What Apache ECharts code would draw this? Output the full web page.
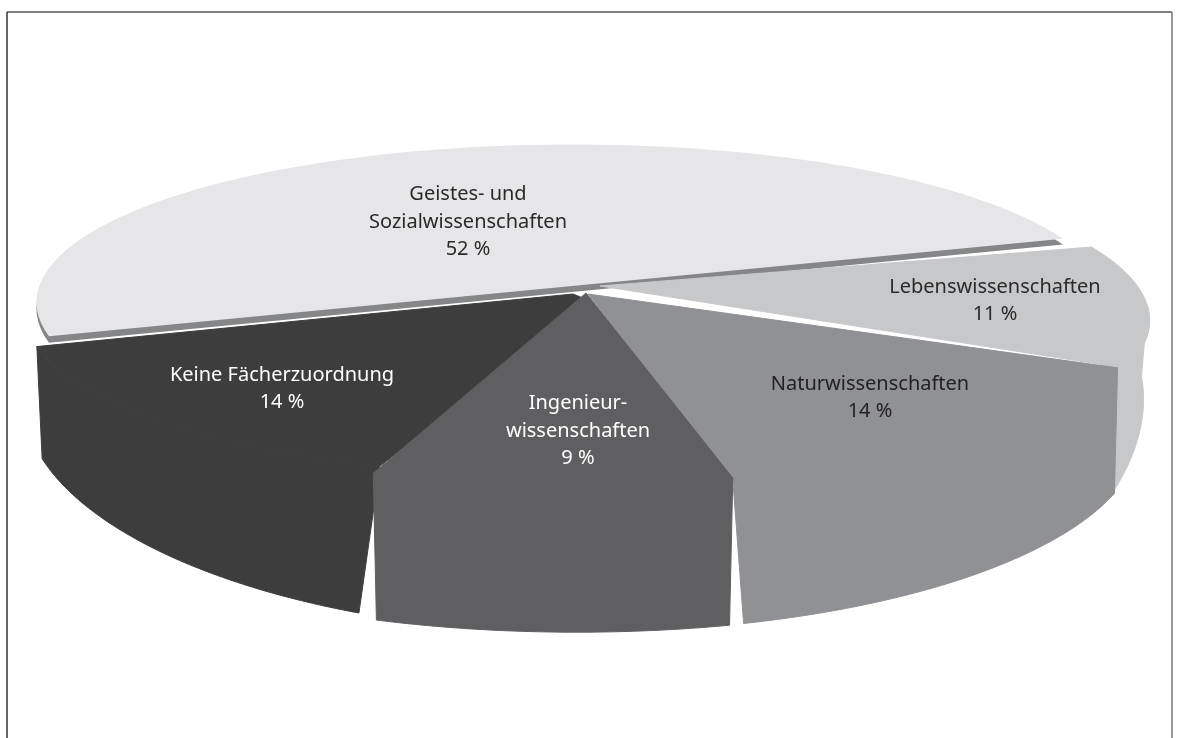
<!DOCTYPE html>
<html><head><meta charset="utf-8">
<style>html,body{margin:0;padding:0;background:#fff}#c{width:1178px;height:738px}</style>
<script src="https://cdn.jsdelivr.net/npm/echarts@6/dist/echarts.min.js"></script>
</head><body><div id="c"></div>
<script>
const categories = ['Geistes- und\nSozialwissenschaften','Lebenswissenschaften','Naturwissenschaften','Ingenieur-\nwissenschaften','Keine Fächerzuordnung'];
const shares = [52,11,14,9,14];
const shareLabels = ['52 %','11 %','14 %','9 %','14 %'];
const colors = ['#e6e6e8','#c7c8ca','#909194','#5f5f61','#3d3d3d'];
const textColors = ['#2a2a2a','#2a2a2a','#222222','#ffffff','#ffffff'];
// projection of the tilted disc
const view = {cx:575,cy:290,a:550,b:165,k:0.18,start:-201.2};
const arcOffset = [[-3,-14.5],[16,1.5],[8,1],[1.5,0],[8,-7]];
const apexPoints = [[[572,286]],[[600,286]],[[588,294]],[[586,293]],[[573,294],[590,301]]];
const radius = [0.96,1,1,1,1];
const topLean = [[0,0],[-2.5,0],[0,0.6],[0,0],[0,0]];
const wallHeight = [6,62,105,125,80];
const wallPower = [1,8,2,1,4];
const wallFrom = [null,5,null,null,null];
const wallHidden = [null,[1100,360],null,null,null];
const wallTrim = [[0,0],[0,3],[1,-1],[0.3,-0.3],[2,-2.2]];
const wallShiftX = [0,-6,0,0,0];
const layer = [1,2,3,5,3];
const labelAt = [[468,222],[995,301],[870,398],[578,431],[282,389]];
const rad = d => d*Math.PI/180;
function project(t,r,o,h,p){
  const s = 1+view.k*Math.sin(rad(t))*r;
  return [view.cx+o[0]+view.a*r*Math.cos(rad(t))*s,
          view.cy+o[1]+view.b*r*Math.sin(rad(t))*s+(h||0)*Math.pow(s,p||1)];
}
function arc(t0,t1,r,o,h,p){const n=80,out=[];for(let i=0;i<=n;i++)out.push(project(t0+(t1-t0)*i/n,r,o,h,p));return out;}
const total = shares.reduce((a,b)=>a+b,0);
const chart = echarts.init(document.getElementById('c'),null,{renderer:'canvas'});
chart.setOption({
  animation:false,
  graphic:[
    {type:'line',shape:{x1:7,y1:12,x2:1172,y2:12},style:{stroke:'#555',lineWidth:1.5},silent:true},
    {type:'line',shape:{x1:7,y1:12,x2:7,y2:738},style:{stroke:'#333',lineWidth:1.5},silent:true},
    {type:'line',shape:{x1:1172,y1:12,x2:1172,y2:738},style:{stroke:'#777',lineWidth:1.5},silent:true}
  ],
  series:[{
    type:'custom',coordinateSystem:'none',silent:true,
    data:shares,
    renderItem(params,api){
      const i=params.dataIndex;
      let before=0;for(let j=0;j<i;j++)before+=shares[j];
      const t0=view.start+before/total*360, t1=t0+api.value(0)/total*360;
      const o=arcOffset[i], r=radius[i], a=topLean[i], w=wallTrim[i];
      const h=wallHeight[i], p=wallPower[i];
      const ta=t0+a[0], tb=t1+a[1];
      const top=apexPoints[i].concat(arc(ta,tb,r,o));
      const z=layer[i];
      const paint={lineWidth:1,lineJoin:'round'};
      const children=[];
      if(i===0){
        const c=apexPoints[i][0];
        const under=[[c[0],c[1]+h]].concat(arc(ta,tb,r,o,h,p));
        children.push({type:'polygon',z2:z,shape:{points:under},style:{fill:'#858688'}});
      } else {
        const ws=wallFrom[i]===null?ta:wallFrom[i];
        const lower=arc(ws+w[0],tb+w[1],r,[o[0]+wallShiftX[i],o[1]],h,p).reverse();
        const side=arc(ws,tb,r,o).concat(wallHidden[i]?[wallHidden[i]]:[]).concat(lower);
        children.push({type:'polygon',z2:z,shape:{points:side},style:Object.assign({fill:colors[i],stroke:colors[i]},paint)});
      }
      children.push({type:'polygon',z2:z,shape:{points:top},
        style:i===0?{fill:colors[i]}:Object.assign({fill:colors[i],stroke:colors[i]},paint)});
      children.push({type:'text',x:labelAt[i][0],y:labelAt[i][1],z2:50,style:{
        text:categories[i]+'\n'+shareLabels[i],fill:textColors[i],
        font:'20px "Noto Sans"',lineHeight:27.5,align:'center',verticalAlign:'middle'}});
      return {type:'group',children};
    }
  }]
});
</script></body></html>
